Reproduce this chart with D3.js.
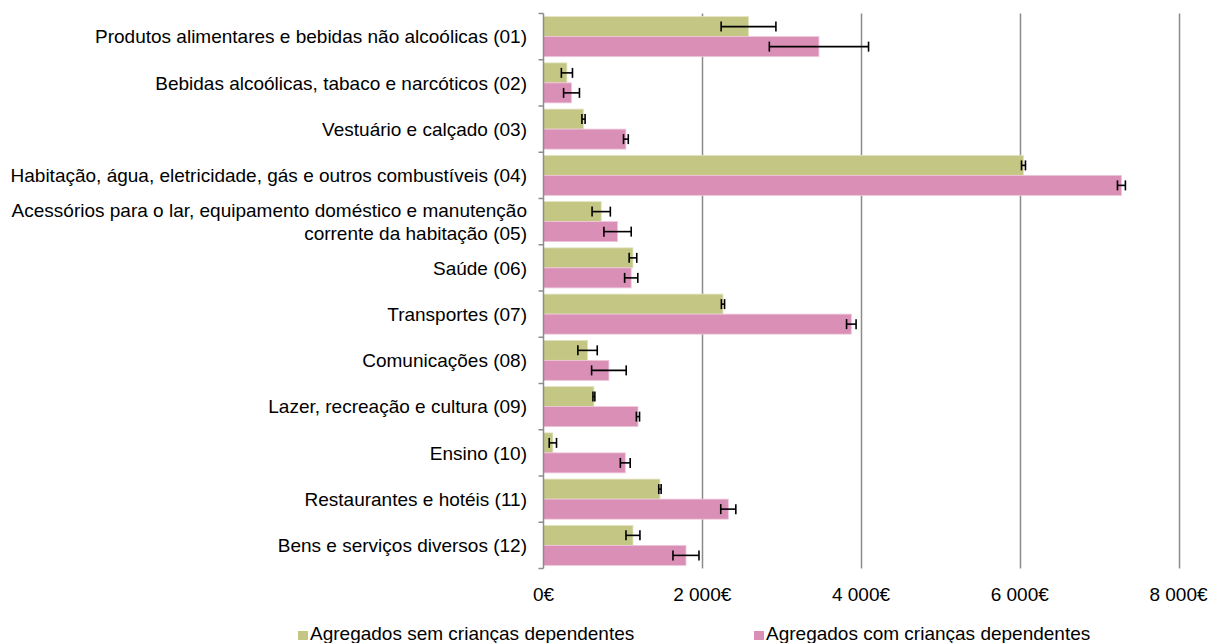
<!DOCTYPE html>
<html>
<head>
<meta charset="utf-8">
<script src="https://cdn.jsdelivr.net/npm/d3@7"></script>
<style>
  body { margin: 0; background: #fff; }
  text { font-family: "Liberation Sans", Arial, sans-serif; fill: #000; }
</style>
</head>
<body>
<script>
// categories (labels with \n are drawn on two lines)
const categories = [
  "Produtos alimentares e bebidas não alcoólicas (01)",
  "Bebidas alcoólicas, tabaco e narcóticos (02)",
  "Vestuário e calçado (03)",
  "Habitação, água, eletricidade, gás e outros combustíveis (04)",
  "Acessórios para o lar, equipamento doméstico e manutenção\ncorrente da habitação (05)",
  "Saúde (06)",
  "Transportes (07)",
  "Comunicações (08)",
  "Lazer, recreação e cultura (09)",
  "Ensino (10)",
  "Restaurantes e hotéis (11)",
  "Bens e serviços diversos (12)"
];
const seriesNames = ["Agregados sem crianças dependentes", "Agregados com crianças dependentes"];
const semCriancas = [2583, 295, 504, 6047, 727, 1127, 2261, 555, 635, 118, 1467, 1127];
const semCriancasErr = [345, 70, 20, 25, 115, 48, 20, 122, 12, 46, 15, 88];
const comCriancas = [3470, 353, 1038, 7281, 933, 1105, 3878, 824, 1190, 1030, 2328, 1795];
const comCriancasErr = [625, 100, 30, 50, 172, 83, 60, 218, 20, 62, 95, 164];
const xTicks = [0, 2000, 4000, 6000, 8000];
const colors = ["#c4c783", "#da8fb6"];

const width = 1217, height = 643;

const svg = d3.select("body").append("svg")
  .attr("width", width)
  .attr("height", height);

const x = d3.scaleLinear()
  .domain([0, 8000])
  .range([543.5, 1178.5]);

const y = d3.scaleBand()
  .domain(d3.range(categories.length))
  .range([13.5, 568.5])
  .padding(0);

const ySub = d3.scaleBand()
  .domain([0, 1])
  .range([0, y.bandwidth()])
  .paddingInner(0)
  .paddingOuter(0.156);

// gridlines
svg.append("g").selectAll("line")
  .data(xTicks.slice(1))
  .enter().append("line")
  .attr("x1", d => Math.round(x(d)) + 0.5)
  .attr("x2", d => Math.round(x(d)) + 0.5)
  .attr("y1", y.range()[0])
  .attr("y2", y.range()[1])
  .attr("stroke", "#8c8c8c")
  .attr("stroke-width", 1.5);

const rows = categories.map((c, i) => [
  { i, s: 0, v: semCriancas[i], e: semCriancasErr[i] },
  { i, s: 1, v: comCriancas[i], e: comCriancasErr[i] }
]).flat();

// bars
svg.append("g").selectAll("rect")
  .data(rows)
  .enter().append("rect")
  .attr("x", x(0))
  .attr("y", d => y(d.i) + ySub(d.s))
  .attr("width", d => x(d.v) - x(0))
  .attr("height", ySub.bandwidth())
  .attr("fill", d => colors[d.s])
  .attr("stroke", d => d.s === 0 ? "#e2e3c2" : "#eec7da")
  .attr("stroke-width", 0.8);

// error bars
const err = svg.append("g")
  .attr("stroke", "#000")
  .attr("stroke-width", 1.6);
rows.forEach(d => {
  const cy = y(d.i) + ySub(d.s) + ySub.bandwidth() / 2;
  const x1 = x(d.v - d.e), x2 = x(d.v + d.e);
  err.append("line").attr("x1", x1).attr("x2", x2).attr("y1", cy).attr("y2", cy);
  err.append("line").attr("x1", x1).attr("x2", x1).attr("y1", cy - 5).attr("y2", cy + 5);
  err.append("line").attr("x1", x2).attr("x2", x2).attr("y1", cy - 5).attr("y2", cy + 5);
});

// vertical axis
const ax = svg.append("g").attr("stroke", "#8c8c8c").attr("stroke-width", 1.5);
ax.append("line")
  .attr("x1", x(0)).attr("x2", x(0))
  .attr("y1", y.range()[0]).attr("y2", y.range()[1]);
ax.selectAll(".tk")
  .data(d3.range(categories.length + 1))
  .enter().append("line")
  .attr("x1", x(0) - 5).attr("x2", x(0))
  .attr("y1", i => y.range()[0] + i * y.step())
  .attr("y2", i => y.range()[0] + i * y.step());

// category labels
const labels = svg.append("g").selectAll("text")
  .data(categories)
  .enter().append("text")
  .attr("text-anchor", "end")
  .style("font-size", "19px")
  .attr("x", 527)
  .attr("y", (d, i) => y(i) + y.bandwidth() / 2);
labels.each(function(d) {
  const lines = d.split("\n");
  const t = d3.select(this);
  lines.forEach((l, k) => {
    t.append("tspan")
      .attr("x", 527)
      .attr("dy", k === 0 ? (0.35 - (lines.length - 1) * 0.6) + "em" : "1.2em")
      .text(l);
  });
});

// x tick labels
const fmt = v => d3.format(",")(v).replace(/,/g, " ") + "€";
svg.append("g").selectAll("text")
  .data(xTicks)
  .enter().append("text")
  .attr("x", d => x(d))
  .attr("y", 601)
  .attr("text-anchor", "middle")
  .style("font-size", "19px")
  .text(fmt);

// legend
const legendX = [298, 754];
const lg = svg.append("g").selectAll("g")
  .data(seriesNames)
  .enter().append("g")
  .attr("transform", (d, i) => `translate(${legendX[i]},0)`);
lg.append("rect")
  .attr("x", 0).attr("y", 631)
  .attr("width", 10).attr("height", 9)
  .attr("fill", (d, i) => colors[i]);
lg.append("text")
  .attr("x", 12).attr("y", 640)
  .style("font-size", "19px")
  .text(d => d);
</script>
</body>
</html>
